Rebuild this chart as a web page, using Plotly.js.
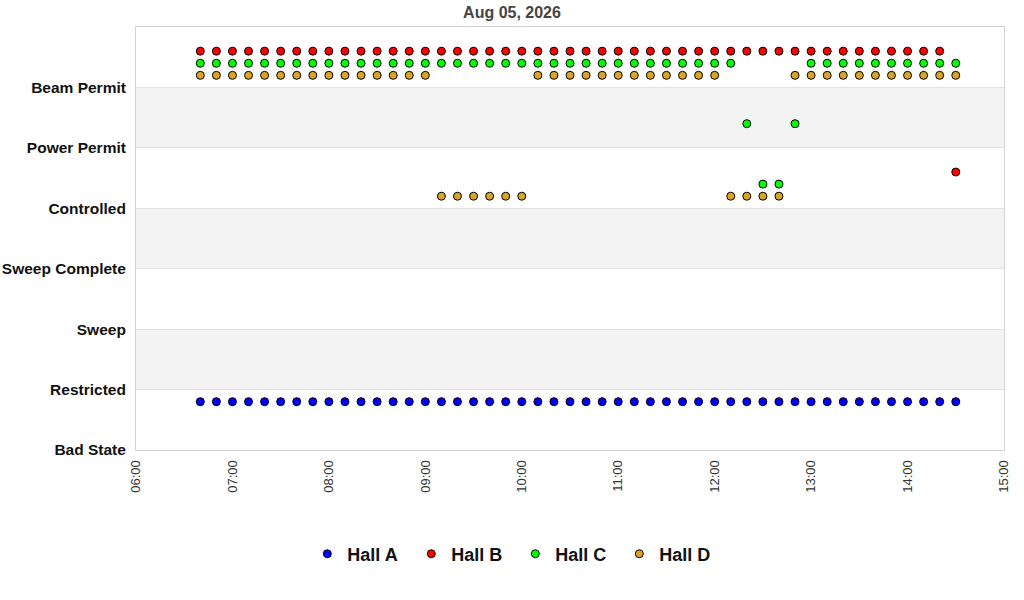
<!DOCTYPE html>
<html>
<head>
<meta charset="utf-8">
<script src="https://cdn.plot.ly/plotly-3.0.1.min.js"></script>
<style>
html,body{margin:0;padding:0;background:#fff;}
#chart{width:1024px;height:600px;}
</style>
</head>
<body>
<div id="chart"></div>
<script>
var chartDate = "2026-08-05";
var chartTitle = "Aug 05, 2026";
var stateLabels = ["Bad State","Restricted","Sweep","Sweep Complete","Controlled","Power Permit","Beam Permit"];
var hallNames = ["Hall A","Hall B","Hall C","Hall D"];
var times = ["06:40","06:50","07:00","07:10","07:20","07:30","07:40","07:50",
  "08:00","08:10","08:20","08:30","08:40","08:50","09:00","09:10","09:20","09:30","09:40","09:50",
  "10:00","10:10","10:20","10:30","10:40","10:50","11:00","11:10","11:20","11:30","11:40","11:50",
  "12:00","12:10","12:20","12:30","12:40","12:50","13:00","13:10","13:20","13:30","13:40","13:50",
  "14:00","14:10","14:20","14:30"];
var hallA = [0,0,0,0,0,0,0,0, 0,0,0,0,0,0,0,0,0,0,0,0, 0,0,0,0,0,0,0,0,0,0,0,0, 0,0,0,0,0,0,0,0,0,0,0,0, 0,0,0,0];
var hallB = [6,6,6,6,6,6,6,6, 6,6,6,6,6,6,6,6,6,6,6,6, 6,6,6,6,6,6,6,6,6,6,6,6, 6,6,6,6,6,6,6,6,6,6,6,6, 6,6,6,4];
var hallC = [6,6,6,6,6,6,6,6, 6,6,6,6,6,6,6,6,6,6,6,6, 6,6,6,6,6,6,6,6,6,6,6,6, 6,6,5,4,4,5,6,6,6,6,6,6, 6,6,6,6];
var hallD = [6,6,6,6,6,6,6,6, 6,6,6,6,6,6,6,4,4,4,4,4, 4,6,6,6,6,6,6,6,6,6,6,6, 6,4,4,4,4,6,6,6,6,6,6,6, 6,6,6,6];
var tickHours = ["06:00","07:00","08:00","09:00","10:00","11:00","12:00","13:00","14:00","15:00"];

var hallStates = [hallA, hallB, hallC, hallD];
var hallColors = ["#0000ff","#ff0000","#00ff00","#daa520"];
var hallOffsets = [0.8, 0.6, 0.4, 0.2];

var xs = times.map(function(t){ return chartDate + " " + t; });
var traces = hallNames.map(function(name, i){
  return {
    type: "scatter",
    mode: "markers",
    name: name,
    x: xs,
    y: hallStates[i].map(function(v){ return v + hallOffsets[i]; }),
    marker: {color: hallColors[i], size: 8, line: {color: "#000", width: 1}}
  };
});

var shapes = [1,3,5].map(function(v){
  return {type:"rect", xref:"paper", x0:0, x1:1, yref:"y", y0:v, y1:v+1,
          fillcolor:"#f3f3f3", line:{width:0}, layer:"below"};
});

var layout = {
  width: 1024, height: 600,
  margin: {l:136, r:20, t:27, b:150, autoexpand: false},
  paper_bgcolor: "#fff", plot_bgcolor: "#fff",
  font: {family: "Liberation Sans, Arial, sans-serif", color: "#222"},
  title: {text: chartTitle, x: 0.5, xref: "container", y: 0.98, yref: "container", yanchor: "middle",
          font: {size: 16, weight: "bold", color: "#444"}},
  showlegend: true,
  legend: {orientation: "h", x: 0.437, xanchor: "center", y: -0.246, yanchor: "middle",
           entrywidth: 59, entrywidthmode: "pixels",
           font: {size: 18, weight: "bold", color: "#111"}},
  xaxis: {
    type: "date",
    range: [chartDate + " " + tickHours[0], chartDate + " " + tickHours[tickHours.length-1]],
    tickmode: "array",
    tickvals: tickHours.map(function(t){ return chartDate + " " + t; }),
    ticktext: tickHours,
    tickangle: -90,
    tickfont: {size: 13, color: "#333"},
    showgrid: false, zeroline: false,
    showline: true, linecolor: "#d4d4d4", linewidth: 1, mirror: true,
    ticks: "", ticklabelstandoff: 4
  },
  yaxis: {
    range: [0, 7],
    tickmode: "array",
    tickvals: stateLabels.map(function(s, i){ return i; }),
    ticktext: stateLabels,
    tickfont: {size: 15.5, weight: "bold", color: "#111"},
    showgrid: true, gridcolor: "#e2e2e2", gridwidth: 1, zeroline: false,
    showline: true, linecolor: "#d4d4d4", linewidth: 1, mirror: true,
    ticks: "", ticklabelstandoff: 6
  },
  shapes: shapes
};

Plotly.newPlot("chart", traces, layout, {displayModeBar: false, staticPlot: true});
</script>
</body>
</html>
